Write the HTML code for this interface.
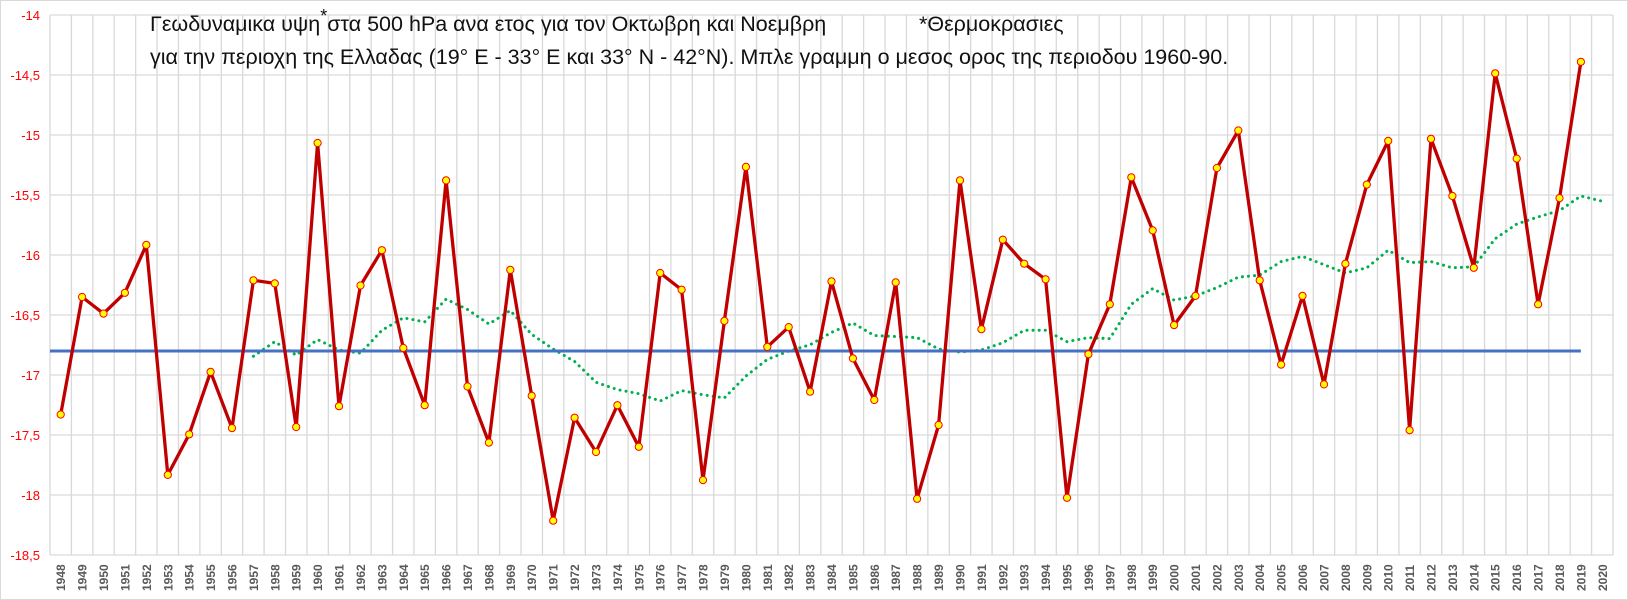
<!DOCTYPE html>
<html><head><meta charset="utf-8"><style>
body{margin:0;background:#fff;width:1628px;height:600px;overflow:hidden}
svg{display:block}
</style></head><body>
<svg id="c" width="1628" height="600" xmlns="http://www.w3.org/2000/svg" font-family="Liberation Sans, DejaVu Sans, sans-serif">
<rect x="0.5" y="0.5" width="1627" height="599" fill="#fff" stroke="#d9d9d9"/>
<g id="grid"></g>
<g id="lbl"></g>
<text x="150" y="31" font-size="21.5" fill="#111">Γεωδυναμικα υψη<tspan dy="-9" font-size="18">*</tspan><tspan dy="9">στα 500 hPa ανα ετος για τον Οκτωβρη και Νοεμβρη</tspan></text>
<text x="919" y="31" font-size="21.5" fill="#111">*Θερμοκρασιες</text>
<text x="150" y="64" font-size="21.5" fill="#111">για την περιοχη της Ελλαδας (19° E - 33° E και 33° N - 42°N). Μπλε γραμμη ο μεσος ορος της περιοδου 1960-90.</text>
<g id="series"></g>
</svg>
<script>
var L=50,R=1613,T=15,B=555,N=73,cw=(R-L)/N;
function X(i){return L+cw*(i+0.5)}
function Y(v){return T+(-14-v)*120}
function ev(e){return -14-(e-15)/115.33}
var red=[399,286,302,282,236,457,418,358,412,270,273,411,138,391,275,241,335,390,174,372,426,260,381,501,402,435,390,430,263,279,462,309,161,334,315,377,271,345,385,272,480,409,174,317,231,254,269,479,341,293,171,222,313,285,162,126,270,351,285,370,254,178,136,414,134,189,258,71,153,293,191,60];
var grn=[343,329,342,327,337,340,318,306,310,288,298,312,299,322,336,348,368,375,379,386,376,380,383,362,346,338,332,320,311,323,324,325,336,339,337,330,318,318,329,325,326,293,278,289,285,277,267,265,252,247,255,263,258,241,253,252,258,257,230,216,209,203,189,194];
var g='',l='',s='';
for(var k=0;k<=9;k++){var y=T+k*60;g+='<line x1="'+L+'" x2="'+R+'" y1="'+y+'" y2="'+y+'" stroke="#d9d9d9" stroke-width="1.3"/>';
var v=(-14-k*0.5).toString().replace('.',',');l+='<text x="40" y="'+(y+5)+'" font-size="13" fill="#ff0000" text-anchor="end">'+v+'</text>';}
for(var i=0;i<=N;i++){var x=L+cw*i;g+='<line x1="'+x+'" x2="'+x+'" y1="'+T+'" y2="'+B+'" stroke="#d9d9d9" stroke-width="1.3"/>';}
for(var i=0;i<N;i++){l+='<text transform="translate('+(X(i)+4.5)+',591) rotate(-90)" font-size="12" font-weight="bold" fill="#595959">'+(1948+i)+'</text>';}
document.getElementById('grid').innerHTML=g;document.getElementById('lbl').innerHTML=l;
var pg=[];for(var i=0;i<grn.length;i++)pg.push(X(9+i).toFixed(1)+','+Y(ev(grn[i])).toFixed(1));
s+='<polyline points="'+pg.join(' ')+'" fill="none" stroke="#00b050" stroke-width="3" stroke-dasharray="0.1 6" stroke-linecap="round"/>';
s+='<line x1="'+L+'" x2="'+X(71)+'" y1="'+Y(-16.8)+'" y2="'+Y(-16.8)+'" stroke="#4472c4" stroke-width="3"/>';
var pr=[];for(var i=0;i<red.length;i++)pr.push(X(i).toFixed(1)+','+Y(ev(red[i])).toFixed(1));
s+='<polyline points="'+pr.join(' ')+'" fill="none" stroke="#c00000" stroke-width="3.3" stroke-linejoin="round"/>';
for(var i=0;i<red.length;i++)s+='<circle cx="'+X(i).toFixed(1)+'" cy="'+Y(ev(red[i])).toFixed(1)+'" r="3.6" fill="#ffff00" stroke="#ff0000" stroke-width="1"/>';
document.getElementById('series').innerHTML=s;
</script>
</body></html>
